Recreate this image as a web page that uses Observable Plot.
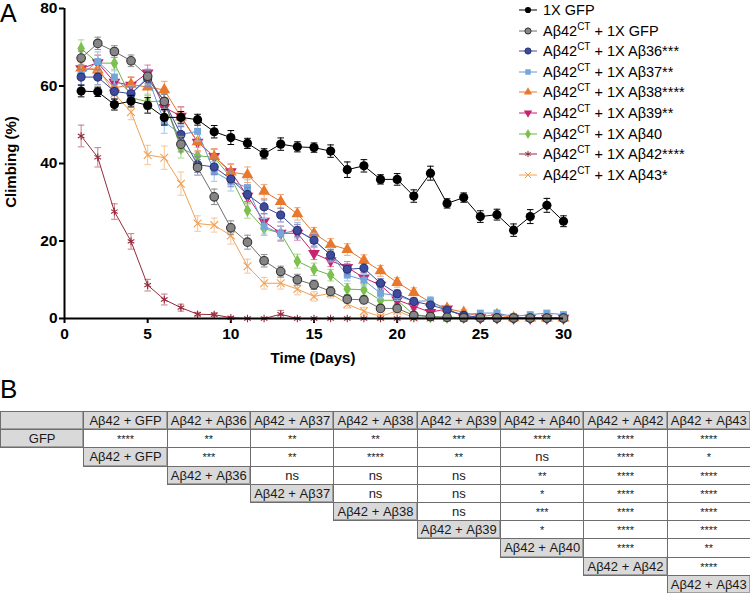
<!DOCTYPE html>
<html><head><meta charset="utf-8">
<script src="https://cdn.jsdelivr.net/npm/d3@7"></script>
<script src="https://cdn.jsdelivr.net/npm/@observablehq/plot@0.6"></script>
<style>
body{margin:0;background:#fff;font-family:"Liberation Sans",Arial,sans-serif;}
#wrap{position:relative;width:750px;height:593px;overflow:hidden;background:#fff;}
#chart{position:absolute;left:0;top:0;}
.lbl{position:absolute;font-weight:bold;font-size:15px;color:#000;white-space:nowrap;}
.panel{position:absolute;font-size:25px;line-height:1;color:#000;}
#legend{position:absolute;left:518px;top:0px;}
.li{position:absolute;left:0;height:20px;display:flex;align-items:center;font-size:14.5px;white-space:nowrap;color:#000;}
.li svg{margin-right:5px;}
.li sup{font-size:10px;vertical-align:6px;line-height:0;}
.cell{position:absolute;box-sizing:border-box;border:1px solid #6e6e6e;display:flex;align-items:center;justify-content:center;font-size:13px;color:#1a1a1a;background:#fff;white-space:nowrap;}
.cell.g{background:#d9d9d9;box-shadow:inset -1px -1px 0 #a0a0a0;}
</style></head>
<body><div id="wrap"></div>
<script>
// ---------- data ----------
const days = [1,2,3,4,5,6,7,8,9,10,11,12,13,14,15,16,17,18,19,20,21,22,23,24,25,26,27,28,29,30];
const xTicks = [0,5,10,15,20,25,30];
const yTicks = [0,20,40,60,80];
const seriesNames = ["1X GFP","Aβ42CT + 1X GFP","Aβ42CT + 1X Aβ36***","Aβ42CT + 1X Aβ37**","Aβ42CT + 1X Aβ38****","Aβ42CT + 1X Aβ39**","Aβ42CT + 1X Aβ40","Aβ42CT + 1X Aβ42****","Aβ42CT + 1X Aβ43*"];
const legendMain = ["1X GFP","Aβ42","Aβ42","Aβ42","Aβ42","Aβ42","Aβ42","Aβ42","Aβ42"];
const legendSup = ["","CT","CT","CT","CT","CT","CT","CT","CT"];
const legendRest = [""," + 1X GFP"," + 1X Aβ36***"," + 1X Aβ37**"," + 1X Aβ38****"," + 1X Aβ39**"," + 1X Aβ40"," + 1X Aβ42****"," + 1X Aβ43*"];

const vGFP = [58.7,58.5,55.2,56.1,55.0,51.9,51.9,51.3,48.2,46.7,45.2,42.5,45.0,44.3,44.1,43.2,38.4,39.4,35.9,35.9,31.6,37.5,29.7,31.2,26.3,26.8,22.8,26.3,29.2,25.1];
const eGFP = [1.5,1.2,1.4,1.5,2.0,2.0,1.5,1.4,1.6,1.8,1.3,1.3,1.6,1.3,1.2,1.6,2.0,1.6,1.2,1.5,1.6,1.8,1.2,1.2,1.5,1.4,1.6,1.8,1.8,1.4];
const vCT = [67.2,71.0,68.9,66.5,62.5,56.0,45.0,39.0,31.4,23.4,19.7,14.9,12.1,10.0,8.7,7.0,5.0,4.8,2.6,2.6,0.8,0.5,0.3,0.2,0.2,0.1,0.1,0.1,0.1,0.1];
const eCT = [1.8,1.6,1.5,1.5,1.8,1.8,2.0,2.0,2.0,1.8,1.8,1.6,1.4,1.4,1.2,1.2,1.0,1.0,0.8,0.8,0.5,0.4,0.3,0.2,0.2,0.1,0.1,0.1,0.1,0.1];
const v36 = [62.3,62.3,58.6,58.0,61.9,56.0,47.5,39.7,39.1,36.0,32.0,28.8,26.7,22.7,20.2,16.4,12.7,13.0,9.1,6.4,4.4,3.5,2.2,0.8,0.3,0.2,0.1,0.1,0.1,0.1];
const e36 = [2.0,2.0,1.8,1.8,2.0,2.0,2.0,2.0,2.0,2.0,1.8,1.8,1.8,1.6,1.5,1.4,1.4,1.2,1.2,1.0,0.8,0.8,0.6,0.4,0.3,0.2,0.2,0.1,0.1,0.1];
const v37 = [62.9,66.3,62.3,58.0,62.3,50.8,47.5,48.3,37.9,35.4,33.8,23.8,21.9,22.8,20.2,16.4,11.2,9.9,6.5,5.9,4.4,4.6,2.0,1.0,1.4,1.4,0.5,1.0,1.4,1.0];
const e37 = [2.5,2.5,2.0,2.0,2.0,3.0,2.5,2.5,2.5,2.5,2.0,2.0,2.0,2.0,1.8,1.8,1.5,1.5,1.4,1.2,1.0,1.0,0.8,0.6,0.6,0.6,0.4,0.5,0.6,0.5];
const v38 = [64.6,64.1,59.5,60.4,59.7,59.0,52.0,45.6,41.8,37.8,37.1,32.8,30.2,27.0,22.0,19.1,17.8,15.0,12.3,9.3,6.7,4.2,2.6,1.6,0.5,1.0,0.2,0.1,0.1,0.1];
const e38 = [2.0,2.0,2.0,2.0,2.2,2.2,2.5,2.2,2.0,2.0,2.0,1.8,1.8,1.6,1.5,1.5,1.5,1.4,1.4,1.2,1.2,1.0,0.8,0.6,0.4,0.4,0.2,0.1,0.1,0.1];
const v39 = [64.5,66.0,61.0,60.2,63.4,54.5,52.2,45.5,41.8,37.9,31.6,25.1,22.0,22.0,16.8,14.9,13.2,10.5,8.6,4.8,3.2,1.6,2.5,0.5,0.2,0.2,0.1,0.1,0.1,0.1];
const e39 = [2.0,2.0,2.0,2.0,2.0,2.5,2.5,2.5,2.0,2.0,2.0,2.0,1.8,1.8,1.6,1.5,1.5,1.3,1.2,1.0,0.8,0.6,0.6,0.4,0.2,0.2,0.1,0.1,0.1,0.1];
const v40 = [69.7,65.9,65.9,57.0,55.9,56.2,43.9,42.0,41.6,36.4,27.9,23.2,22.0,14.8,12.7,11.2,7.6,7.4,4.7,4.7,1.0,0.5,0.3,0.3,0.2,0.2,0.2,0.2,0.2,0.2];
const e40 = [2.2,2.0,2.0,2.0,2.0,2.2,2.5,2.2,2.0,2.0,2.0,1.8,1.8,1.8,1.6,1.5,1.4,1.4,1.2,1.0,0.6,0.4,0.3,0.3,0.2,0.2,0.2,0.2,0.2,0.2];
const v42 = [47.1,41.6,27.6,19.9,8.6,4.9,2.8,1.1,1.0,0.2,0,0,1.1,0,0,0,0,0,0,0,0,0,0,0,0,0,0,0,0,0];
const e42 = [2.8,2.5,2.0,2.0,1.5,1.4,0.9,0.5,0.5,0.3,0,0,1.0,0,0,0,0,0,0,0,0,0,0,0,0,0,0,0,0,0];
const v43 = [64.0,64.8,58.0,53.3,42.2,41.5,34.8,24.5,24.1,21.4,13.5,9.1,9.1,7.6,5.7,6.5,3.7,1.9,0.5,2.0,0.2,0.1,0.1,0.1,0.1,0.1,0.1,0.1,0.1,0.1];
const e43 = [2.0,2.0,2.0,2.0,2.5,3.0,3.0,2.0,1.8,2.2,1.8,1.5,1.5,1.5,1.2,1.2,1.0,1.0,0.5,0.8,0.2,0.1,0.1,0.1,0.1,0.1,0.1,0.1,0.1,0.1];
const values = [vGFP,vCT,v36,v37,v38,v39,v40,v42,v43];
const errors = [eGFP,eCT,e36,e37,e38,e39,e40,e42,e43];

// table (panel B)
const tableCols = ["Aβ42 + GFP","Aβ42 + Aβ36","Aβ42 + Aβ37","Aβ42 + Aβ38","Aβ42 + Aβ39","Aβ42 + Aβ40","Aβ42 + Aβ42","Aβ42 + Aβ43"];
const tableRowLabels = ["GFP","Aβ42 + GFP","Aβ42 + Aβ36","Aβ42 + Aβ37","Aβ42 + Aβ38","Aβ42 + Aβ39","Aβ42 + Aβ40","Aβ42 + Aβ42","Aβ42 + Aβ43"];
const tableVals = [
  ["****","**","**","**","***","****","****","****"],
  ["***","**","****","**","ns","****","*"],
  ["ns","ns","ns","**","****","****"],
  ["ns","ns","*","****","****"],
  ["ns","***","****","****"],
  ["*","****","****"],
  ["****","**"],
  ["****"],
  []
];

// ---------- styles ----------
const sqrt3 = Math.sqrt(3);
const triangleDown = {draw(ctx,size){const y=-Math.sqrt(size/(sqrt3*3));ctx.moveTo(0,-y*2);ctx.lineTo(-sqrt3*y,y);ctx.lineTo(sqrt3*y,y);ctx.closePath();}};
const capSym = {draw(ctx,size){const w=Math.sqrt(size/Math.PI);ctx.moveTo(-w,0);ctx.lineTo(w,0);}};
const styles = [
  {line:"#000", err:"#000", fill:"#000", stroke:"none", sym:"circle", d3sym:d3.symbolCircle, r:4.6},
  {line:"#6d6d6d", err:"#8c8c8c", fill:"#858585", stroke:"#333", sym:"circle", d3sym:d3.symbolCircle, r:4.3},
  {line:"#3c4a9c", err:"#7d87c0", fill:"#3d4b9e", stroke:"#27326e", sym:"circle", d3sym:d3.symbolCircle, r:4},
  {line:"#5d9ad6", err:"#9cc3e8", fill:"#74a6da", stroke:"none", sym:"square", d3sym:d3.symbolSquare, r:3.9},
  {line:"#e5752b", err:"#f0a877", fill:"#e8782c", stroke:"none", sym:"triangle", d3sym:d3.symbolTriangle, r:4.4},
  {line:"#c4206d", err:"#de80ac", fill:"#c8216f", stroke:"none", sym:triangleDown, d3sym:triangleDown, r:4.4},
  {line:"#6db544", err:"#a9d88e", fill:"#7cc04e", stroke:"none", sym:"diamond", d3sym:d3.symbolDiamond, r:4},
  {line:"#962a3a", err:"#c57f8a", fill:"none", stroke:"#962a3a", sym:"asterisk", d3sym:d3.symbolAsterisk, r:3.6},
  {line:"#f0a054", err:"#f5c596", fill:"none", stroke:"#f0a054", sym:"times", d3sym:d3.symbolTimes, r:3.6}
];

// ---------- build ----------
const marks = [];
for (let i = seriesNames.length - 1; i >= 0; i--) {
  const s = styles[i];
  const rows = days.map((d, j) => ({day: d, v: values[i][j], lo: values[i][j] - errors[i][j], hi: values[i][j] + errors[i][j], e: errors[i][j]}));
  const withErr = rows.filter(r => r.e > 0);
  const caps = withErr.flatMap(r => [{day: r.day, y: r.lo}, {day: r.day, y: r.hi}]);
  marks.push(Plot.ruleX(withErr, {x: "day", y1: "lo", y2: "hi", stroke: s.err, strokeWidth: 1}));
  marks.push(Plot.dot(caps, {x: "day", y: "y", symbol: capSym, r: 3.3, fill: "none", stroke: s.err, strokeWidth: 1}));
  marks.push(Plot.line(rows, {x: "day", y: "v", stroke: s.line, strokeWidth: 1}));
  marks.push(Plot.dot(rows, {x: "day", y: "v", symbol: s.sym, r: s.r, fill: s.fill, stroke: s.stroke, strokeWidth: s.stroke === "none" ? 0 : 1.1}));
}

const chart = Plot.plot({
  width: 750, height: 372,
  marginLeft: 64, marginRight: 187, marginTop: 8, marginBottom: 54,
  x: {domain: [0, 30]},
  y: {domain: [0, 80]},
  style: {fontFamily: '"Liberation Sans", Arial, sans-serif', background: "white", overflow: "visible"},
  marks: [
    Plot.axisX({ticks: xTicks, tickSize: 5, tickPadding: 4, fontSize: 15.5, fontWeight: "bold", strokeWidth: 2, label: null, fill: "#000"}),
    Plot.axisY({ticks: yTicks, tickSize: 5, tickPadding: 2, fontSize: 15.5, fontWeight: "bold", strokeWidth: 2, label: null, fill: "#000"}),
    ...marks,
    Plot.ruleY([0], {stroke: "#000", strokeWidth: 2}),
    Plot.ruleX([0], {stroke: "#000", strokeWidth: 2})
  ]
});
chart.id = "chart";
const wrap = document.getElementById("wrap");
wrap.appendChild(chart);

function addDiv(cls, html, css) {
  const d = document.createElement("div");
  d.className = cls; d.innerHTML = html; Object.assign(d.style, css); wrap.appendChild(d); return d;
}
addDiv("panel", "A", {left: "0px", top: "1px"});
addDiv("panel", "B", {left: "0px", top: "376px", fontSize: "26px"});
addDiv("lbl", "Time (Days)", {left: "313px", top: "349px", transform: "translateX(-50%)"});
addDiv("lbl", "Climbing (%)", {left: "10px", top: "162px", transform: "translate(-50%,-50%) rotate(-90deg)"});

// legend
const legend = document.createElement("div");
legend.id = "legend";
wrap.appendChild(legend);
seriesNames.forEach((name, i) => {
  const s = styles[i];
  const li = document.createElement("div");
  li.className = "li";
  li.style.top = (i * 20.6) + "px";
  const path = d3.symbol().type(s.d3sym).size(s.sym === "asterisk" || s.sym === "times" ? 26 : 30)();
  li.innerHTML = `<svg width="20" height="12" viewBox="-10 -6 20 12"><line x1="-9" x2="9" y1="0" y2="0" stroke="${s.line}" stroke-width="1"/><path d="${path}" fill="${s.fill}" stroke="${s.stroke}" stroke-width="${s.stroke === "none" ? 0 : 1}"/></svg>` +
    `<span>${legendMain[i]}${legendSup[i] ? `<sup>${legendSup[i]}</sup>` : ""}${legendRest[i]}</span>`;
  legend.appendChild(li);
});

// table
const T0 = 411, CW = 750 / 9, RH = 18.2;
function cell(col, row, text, gray) {
  const stars = /^\*+$/.test(text);
  addDiv("cell" + (gray ? " g" : ""), text, {
    left: (col * CW) + "px", top: (T0 + row * RH) + "px",
    width: (CW + 1) + "px", height: (RH + 1) + "px",
    fontSize: stars ? "11px" : "13px",
    alignItems: stars ? "flex-start" : "center",
    paddingTop: stars ? "3px" : "0px"
  });
}
cell(0, 0, "", true);
tableCols.forEach((c, k) => cell(k + 1, 0, c, true));
tableRowLabels.forEach((lab, r) => {
  cell(r, r + 1, lab, true);
  tableVals[r].forEach((v, k) => cell(r + 1 + k, r + 1, v, false));
});
</script></body></html>
